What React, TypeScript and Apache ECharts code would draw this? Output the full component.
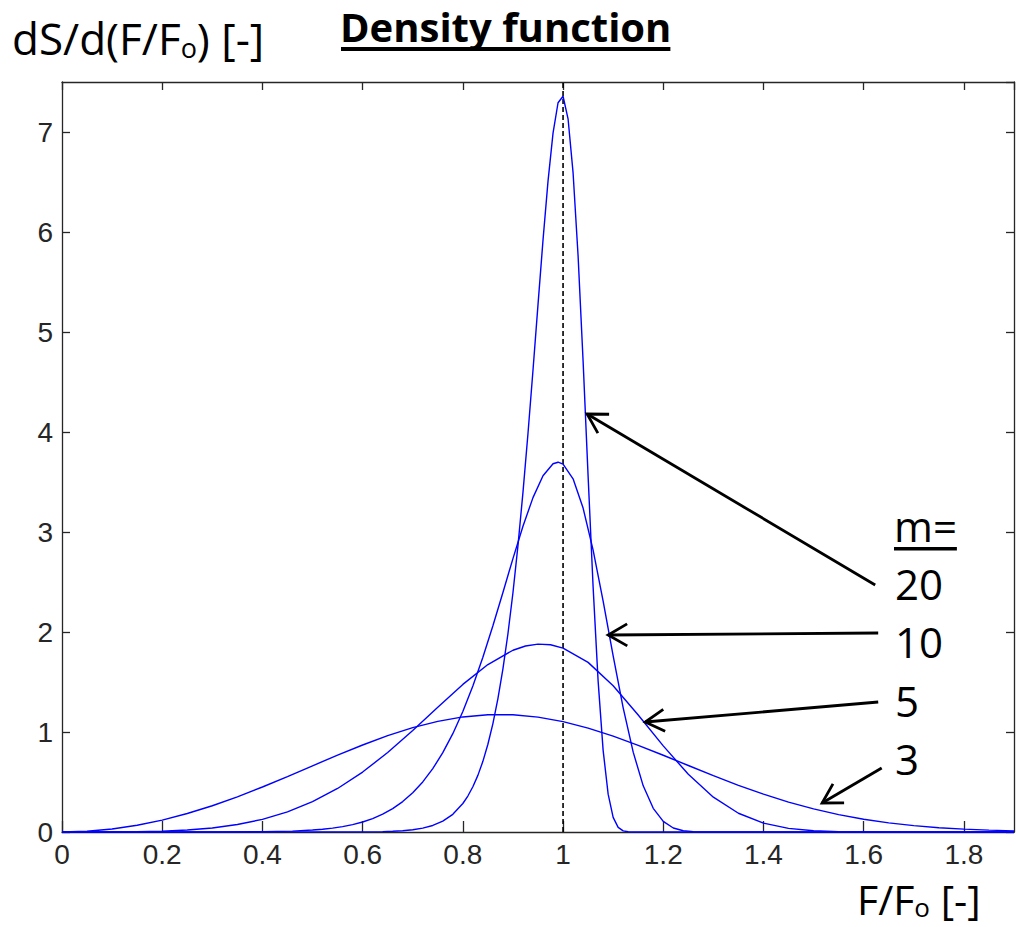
import React, { useEffect, useRef } from "react";
import * as echarts from "echarts";

// ---- data (x = F/Fo, y = dS/d(F/Fo)) ----
const x3 = [0, 0.05, 0.1, 0.15, 0.2, 0.25, 0.3, 0.35, 0.4, 0.45, 0.5, 0.55, 0.6, 0.65, 0.7, 0.75, 0.8, 0.85, 0.9, 0.95, 1.0, 1.05, 1.1, 1.15, 1.2, 1.25, 1.3, 1.35, 1.4, 1.45, 1.5, 1.55, 1.6, 1.65, 1.7, 1.75, 1.8, 1.85, 1.9];
const y3 = [0, 0.0075, 0.03, 0.0673, 0.119, 0.1846, 0.2628, 0.3521, 0.4502, 0.5546, 0.6619, 0.7684, 0.8702, 0.9631, 1.0432, 1.1067, 1.1507, 1.1728, 1.1722, 1.1487, 1.1036, 1.0393, 0.9591, 0.867, 0.7674, 0.6649, 0.5634, 0.4669, 0.3781, 0.2992, 0.231, 0.174, 0.1278, 0.0915, 0.0637, 0.0432, 0.0285, 0.0183, 0.0114];

const x5 = [0, 0.1, 0.15, 0.2, 0.25, 0.3, 0.35, 0.4, 0.45, 0.5, 0.55, 0.6, 0.65, 0.7, 0.75, 0.8, 0.85, 0.9, 0.925, 0.95, 0.975, 1.0, 1.05, 1.1, 1.15, 1.2, 1.25, 1.3, 1.35, 1.4, 1.45, 1.5, 1.55, 1.6, 1.65, 1.9];
const y5 = [0, 0.0005, 0.0025, 0.008, 0.0195, 0.0404, 0.0746, 0.1267, 0.2013, 0.3029, 0.4351, 0.5995, 0.7948, 1.0148, 1.2479, 1.4758, 1.6748, 1.8176, 1.8597, 1.8785, 1.8723, 1.8394, 1.6962, 1.4625, 1.1703, 0.8611, 0.5771, 0.3485, 0.1875, 0.0887, 0.0364, 0.0128, 0.0038, 0.0009, 0.0001, 0];

const x10 = [0, 0.3, 0.4, 0.46, 0.5, 0.52, 0.54, 0.56, 0.58, 0.6, 0.62, 0.64, 0.66, 0.68, 0.7, 0.72, 0.74, 0.76, 0.78, 0.8, 0.82, 0.84, 0.86, 0.88, 0.9, 0.92, 0.94, 0.96, 0.98, 0.99, 1.0, 1.02, 1.04, 1.06, 1.08, 1.1, 1.12, 1.14, 1.16, 1.18, 1.2, 1.22, 1.24, 1.26, 1.28, 1.9];
const y10 = [0, 0.0002, 0.0026, 0.0092, 0.0195, 0.0278, 0.039, 0.054, 0.074, 0.1002, 0.1342, 0.1781, 0.2339, 0.3044, 0.3923, 0.5009, 0.6334, 0.7932, 0.9832, 1.2055, 1.4609, 1.7481, 2.0624, 2.3956, 2.7338, 3.058, 3.3438, 3.5621, 3.6828, 3.6978, 3.6788, 3.5318, 3.2392, 2.8184, 2.3079, 1.7623, 1.2419, 0.7983, 0.4616, 0.2366, 0.1056, 0.0403, 0.0128, 0.0033, 0.0006, 0];

const x20 = [0, 0.6, 0.64, 0.66, 0.68, 0.7, 0.72, 0.74, 0.76, 0.78, 0.8, 0.81, 0.82, 0.83, 0.84, 0.85, 0.86, 0.87, 0.88, 0.89, 0.9, 0.91, 0.92, 0.93, 0.94, 0.95, 0.96, 0.97, 0.98, 0.99, 1.0, 1.01, 1.02, 1.03, 1.04, 1.05, 1.06, 1.07, 1.08, 1.09, 1.1, 1.11, 1.12, 1.13, 1.14, 1.9];
const y20 = [0, 0.0012, 0.0042, 0.0075, 0.0131, 0.0228, 0.0388, 0.0654, 0.1083, 0.1769, 0.2849, 0.3596, 0.4522, 0.5663, 0.7064, 0.8773, 1.0845, 1.3338, 1.6313, 1.9825, 2.3924, 2.8639, 3.3966, 3.9854, 4.6181, 5.2734, 5.9187, 6.5091, 6.9886, 7.2926, 7.3576, 7.1322, 6.5932, 5.7617, 4.7105, 3.5589, 2.4492, 1.509, 0.8163, 0.3786, 0.1465, 0.0458, 0.0111, 0.002, 0.0003, 0];

const refLineX = [1, 1];
const refLineY = [0, 7.5];

// annotation arrows, in data coordinates: [tip, tail]
const arrowTips = [[1.048, 4.18], [1.09, 1.97], [1.164, 1.1], [1.517, 0.29]];
const arrowTails = [[1.623, 2.47], [1.629, 1.99], [1.629, 1.3], [1.636, 0.64]];

const mLabels = ["20", "10", "5", "3"];

const BLUE = "#0000ff";
const AXIS = "#262626";
const OPEN = "'Open Sans'";

function pairs(xs: number[], ys: number[]) {
  return xs.map((x, i) => [x, ys[i]]);
}

export default function App() {
  const ref = useRef<HTMLDivElement>(null);

  useEffect(() => {
    const chart = echarts.init(ref.current!, null, { renderer: "svg" });
    const ctx = document.createElement("canvas").getContext("2d")!;
    const tw = (t: string, size: number, weight = "normal") => {
      ctx.font = `${weight} ${size}px 'Open Sans'`;
      return ctx.measureText(t).width;
    };
    // place text by alphabetic baseline (SVG central baseline offset for Open Sans)
    const txt = (t: string, x: number, base: number, size: number, weight = "normal") => ({
      type: "text",
      x,
      y: base - 0.388 * size,
      silent: true,
      style: {
        text: t,
        fill: "#000",
        fontSize: size,
        fontFamily: OPEN,
        fontWeight: weight,
        lineHeight: size,
        align: "left",
        verticalAlign: "middle",
        textAlign: "left",
        textVerticalAlign: "middle",
      },
    });

    const lineSeries = (name: string, xs: number[], ys: number[]) => ({
      type: "line",
      name,
      data: pairs(xs, ys),
      showSymbol: false,
      symbol: "none",
      smooth: false,
      lineStyle: { color: BLUE, width: 1.4 },
      z: 3,
    });

    const tickLabel = {
      fontFamily: "'Liberation Sans', Arial, sans-serif",
      fontSize: 28,
      color: AXIS,
    };

    chart.setOption({
      animation: false,
      backgroundColor: "#fff",
      grid: { left: 62, right: 2, top: 82, bottom: 95, containLabel: false },
      xAxis: [
        {
          type: "value",
          min: 0,
          max: 1.9,
          interval: 0.2,
          position: "bottom",
          axisLine: { show: true, onZero: false, lineStyle: { color: AXIS, width: 1.3 } },
          axisTick: { show: true, inside: true, length: 11, lineStyle: { color: AXIS, width: 1.3 } },
          axisLabel: {
            ...tickLabel,
            margin: 8.5,
            showMaxLabel: false,
            formatter: (v: number) => String(Math.round(v * 10) / 10),
          },
          splitLine: { show: false },
        },
        {
          type: "value",
          min: 0,
          max: 1.9,
          interval: 0.2,
          position: "top",
          axisLine: { show: true, onZero: false, lineStyle: { color: AXIS, width: 1.3 } },
          axisTick: { show: true, inside: true, length: 8, lineStyle: { color: AXIS, width: 1.3 } },
          axisLabel: { show: false },
          splitLine: { show: false },
        },
      ],
      yAxis: [
        {
          type: "value",
          min: 0,
          max: 7.5,
          interval: 1,
          position: "left",
          axisLine: { show: true, onZero: false, lineStyle: { color: AXIS, width: 1.3 } },
          axisTick: { show: true, inside: true, length: 8, lineStyle: { color: AXIS, width: 1.3 } },
          axisLabel: {
            ...tickLabel,
            margin: 9,
            showMaxLabel: false,
            formatter: (v: number) => String(Math.round(v)),
          },
          splitLine: { show: false },
        },
        {
          type: "value",
          min: 0,
          max: 7.5,
          interval: 1,
          position: "right",
          axisLine: { show: true, onZero: false, lineStyle: { color: AXIS, width: 1.3 } },
          axisTick: { show: true, inside: true, length: 8, lineStyle: { color: AXIS, width: 1.3 } },
          axisLabel: { show: false },
          splitLine: { show: false },
        },
      ],
      series: [
        {
          type: "line",
          name: "ref",
          data: pairs(refLineX, refLineY),
          showSymbol: false,
          symbol: "none",
          lineStyle: { color: "#000", width: 1.6, type: [5, 3] },
          z: 2,
        },
        lineSeries("m=3", x3, y3),
        lineSeries("m=5", x5, y5),
        lineSeries("m=10", x10, y10),
        lineSeries("m=20", x20, y20),
      ],
    });

    const graphics: any[] = [];

    // arrows
    arrowTips.forEach((tip, i) => {
      const t = chart.convertToPixel({ gridIndex: 0 }, tip) as number[];
      const s = chart.convertToPixel({ gridIndex: 0 }, arrowTails[i]) as number[];
      const dx = s[0] - t[0];
      const dy = s[1] - t[1];
      const len = Math.hypot(dx, dy);
      const ux = dx / len;
      const uy = dy / len;
      const L = 22;
      const a = (30 * Math.PI) / 180;
      const rot = (ang: number) => [
        t[0] + L * (ux * Math.cos(ang) - uy * Math.sin(ang)),
        t[1] + L * (ux * Math.sin(ang) + uy * Math.cos(ang)),
      ];
      graphics.push({
        type: "line",
        silent: true,
        shape: { x1: t[0], y1: t[1], x2: s[0], y2: s[1] },
        style: { stroke: "#000", lineWidth: 2.8 },
        z: 10,
      });
      graphics.push({
        type: "polyline",
        silent: true,
        shape: { points: [rot(a), [t[0], t[1]], rot(-a)] },
        style: { stroke: "#000", lineWidth: 2.8, fill: null, lineJoin: "miter" },
        z: 10,
      });
    });

    // y-axis title: dS/d(F/Fo) [-]
    {
      const fs = 44;
      const sub = 27;
      const x0 = 12;
      const base = 55;
      const a = "dS/d(F/F";
      const wa = tw(a, fs);
      const wo = tw("o", sub);
      graphics.push(txt(a, x0, base, fs));
      graphics.push(txt("o", x0 + wa, base + 3, sub));
      graphics.push(txt(") [-]", x0 + wa + wo, base, fs));
    }

    // chart title
    {
      const fs = 40;
      const x0 = 340;
      const base = 42;
      const t = "Density function";
      const w = tw(t, fs, "bold");
      graphics.push(txt(t, x0, base, fs, "bold"));
      graphics.push({
        type: "rect",
        silent: true,
        shape: { x: x0 + 1, y: base + 5, width: w - 2, height: 4 },
        style: { fill: "#000" },
      });
    }

    // x-axis title: F/Fo [-]
    {
      const fs = 41;
      const sub = 26;
      const x0 = 857;
      const base = 914.5;
      const a = "F/F";
      const wa = tw(a, fs);
      const wo = tw("o", sub);
      graphics.push(txt(a, x0, base, fs));
      graphics.push(txt("o", x0 + wa, base + 3, sub));
      graphics.push(txt(" [-]", x0 + wa + wo, base, fs));
    }

    // m= legend labels
    {
      const fs = 42;
      const x0 = 894;
      const wm = tw("m=", fs);
      graphics.push(txt("m=", x0, 542, fs));
      graphics.push({
        type: "rect",
        silent: true,
        shape: { x: x0, y: 547, width: wm, height: 3.5 },
        style: { fill: "#000" },
      });
      const bases = [600, 658, 717, 775];
      mLabels.forEach((m, i) => graphics.push(txt(m, x0 + 1, bases[i], fs)));
    }

    chart.setOption({ graphic: graphics });

    return () => chart.dispose();
  }, []);

  return (
    <div
      ref={ref}
      style={{ position: "absolute", left: 0, top: 0, width: 1016, height: 927, background: "#fff" }}
    />
  );
}
